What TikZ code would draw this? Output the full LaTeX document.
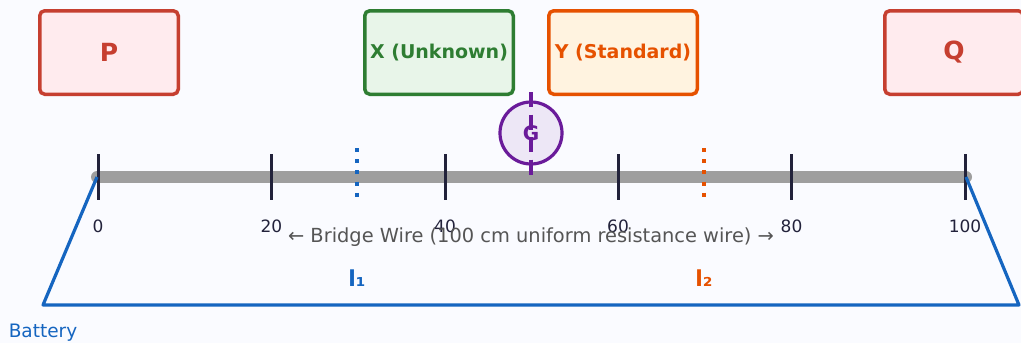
\documentclass[tikz,border=0pt]{standalone}
\usepackage{fontspec}
\setmainfont{DejaVu Sans}
\definecolor{bgc}{HTML}{FAFBFF}
\definecolor{pqred}{HTML}{C63F30}
\definecolor{pqfill}{HTML}{FFEBEE}
\definecolor{xgreen}{HTML}{2E7D32}
\definecolor{xfill}{HTML}{E8F5E9}
\definecolor{yorange}{HTML}{E65100}
\definecolor{yfill}{HTML}{FFF3E0}
\definecolor{gpurple}{HTML}{6A1B9A}
\definecolor{gfill}{HTML}{EDE7F6}
\definecolor{wiregray}{HTML}{9E9E9E}
\definecolor{tickc}{HTML}{22223B}
\definecolor{textgray}{HTML}{555555}
\definecolor{batblue}{HTML}{1565C0}
\tikzset{
  resbox/.style={draw, line width=3.5pt, rounded corners=5pt, minimum width=138.5pt, minimum height=83.5pt, inner sep=0pt, font=\bfseries\fontsize{19}{23}\selectfont},
  widebox/.style={resbox, minimum width=148.5pt},
  ticklab/.style={text=tickc, font=\fontsize{17}{20}\selectfont, inner sep=0pt},
  lenlab/.style={font=\bfseries\fontsize{22}{26}\selectfont, inner sep=0pt},
  balance/.style={line width=4pt, dash pattern=on 4pt off 7.2pt},
}
\begin{document}
\begin{tikzpicture}[x=1pt,y=-1pt]
\useasboundingbox (0,0) rectangle (1021,343);
\clip (0,0) rectangle (1021,343);
\fill[bgc] (0,0) rectangle (1021,343);
% boxes
\node[resbox, draw=pqred, fill=pqfill, text=pqred, font=\bfseries\fontsize{25}{29}\selectfont] (P) at (109,52.5) {P};
\node[widebox, draw=xgreen, fill=xfill, text=xgreen] (X) at (439,52.5) {X (Unknown)};
\node[widebox, draw=yorange, fill=yfill, text=yorange] (Y) at (623,52.5) {Y (Standard)};
\node[resbox, draw=pqred, fill=pqfill, text=pqred, font=\bfseries\fontsize{25}{29}\selectfont] (Q) at (954,52.5) {Q};
% wire
\coordinate (w0) at (97,177);
\coordinate (w100) at (966,177);
\draw[wiregray, line width=12pt, line cap=round] (w0) -- (w100);
% ticks
\foreach \v/\xx in {0/98,20/271.5,40/445,60/618,80/791.5,100/965}{
  \coordinate (t\v) at (\xx,177);
  \draw[tickc, line width=3pt] ([yshift=-22.5pt]t\v) -- ([yshift=23pt]t\v);
  \node[ticklab] (tl\v) at (\xx,226) {\v};
}
% balance markers
\coordinate (d1a) at (357,148);
\coordinate (d1b) at (357,198);
\coordinate (d2a) at (704,148);
\coordinate (d2b) at (704,198);
\draw[batblue, balance] (d1a) -- (d1b);
\draw[yorange, balance] (d2a) -- (d2b);
% galvanometer
\node[circle, draw=gpurple, fill=gfill, line width=3.2pt, minimum size=62pt, inner sep=0pt] (G) at (531,133) {};
\coordinate (gtop) at (531,92);
\coordinate (gbot) at (531,175);
\draw[gpurple, line width=3.2pt, dash pattern=on 15pt off 7.5pt] (gtop) -- (gbot);
\node[text=gpurple, font=\bfseries\fontsize{20}{24}\selectfont, inner sep=0pt] (Glab) at (G.center) {G};
% bridge label
\node[text=textgray, font=\fontsize{19.4}{23}\selectfont, inner sep=0pt] (bw) at (531,237) {← Bridge Wire (100 cm uniform resistance wire) →};
% lengths
\node[lenlab, text=batblue] (l1) at (357,278) {l₁};
\node[lenlab, text=yorange] (l2) at (704,278) {l₂};
% battery circuit
\coordinate (b1) at (43,305);
\coordinate (b2) at (1019,305);
\draw[batblue, line width=3.2pt, line join=round] (w0) -- (b1) -- (b2) -- (w100);
\node[text=batblue, font=\fontsize{18.5}{22}\selectfont, inner sep=0pt] (bat) at (43,333) {Battery};
\end{tikzpicture}
\end{document}
